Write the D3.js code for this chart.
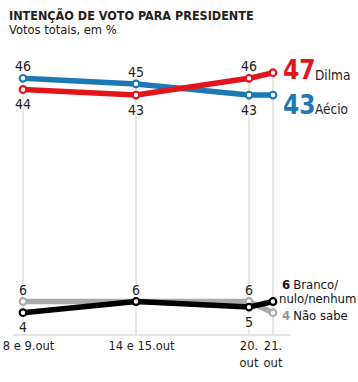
<!DOCTYPE html>
<html>
<head>
<meta charset="utf-8">
<script src="https://cdn.jsdelivr.net/npm/d3@7/dist/d3.min.js"></script>
<style>
  html, body { margin: 0; padding: 0; background: #fff; }
  svg { display: block; }
  text { font-family: 'DejaVu Sans Condensed', 'DejaVu Sans', sans-serif; font-stretch: condensed; }
</style>
</head>
<body>
<svg id="chart" width="358" height="382"></svg>
<script>
// ---- data ----
const categories = ["8 e 9.out", "14 e 15.out", "20.|out", "21.|out"];
const days = [8, 14, 20, 21];
const dilma = [44, 43, 46, 47];
const aecio = [46, 45, 43, 43];
const branco = [4, 6, 5, 6];
const naoSabe = [6, 6, 6, 4];
const seriesNames = ["Dilma", "Aécio", "Branco/|nulo/nenhum", "Não sabe"];

const colors = { dilma: "#e2141c", aecio: "#1d79b5", branco: "#000000", nao: "#ababab" };

const svg = d3.select("#chart");
const baseY = 335;

// x: day scale; the last day is stretched for readability
const x = d3.scaleLinear().domain([8, 20, 21]).range([23, 249, 273]);
const y = d3.scaleLinear().domain([0, 50]).range([baseY, 56]);

// Title
svg.append("text").attr("x", 9).attr("y", 20)
  .attr("font-size", 12.5).attr("font-weight", "bold").attr("fill", "#222")
  .text("INTENÇÃO DE VOTO PARA PRESIDENTE");
svg.append("text").attr("x", 9).attr("y", 33.5)
  .attr("font-size", 12.8).attr("fill", "#222")
  .text("Votos totais, em %");

// grid lines
const g = svg.append("g");
g.selectAll("line.grid").data(days).join("line")
  .attr("class", "grid")
  .attr("x1", d => x(d)).attr("x2", d => x(d))
  .attr("y1", y(47)).attr("y2", baseY)
  .attr("stroke", "#cccccc").attr("stroke-width", 1);
// baseline
g.append("line").attr("x1", 13).attr("x2", 290).attr("y1", baseY).attr("y2", baseY)
  .attr("stroke", "#cccccc").attr("stroke-width", 1);

// x labels
const xl = svg.append("g");
categories.forEach((c, i) => {
  const parts = c.split("|");
  const cx = x(days[i]) + (parts.length === 1 ? 5.5 : 0);
  const t = xl.append("text").attr("x", cx).attr("y", 350)
    .attr("text-anchor", "middle").attr("font-size", 12.8).attr("fill", "#222");
  parts.forEach((p, j) => t.append("tspan").attr("x", cx).attr("dy", j === 0 ? 0 : 17).text(p));
});

const line = d3.line().x((d, i) => x(days[i])).y(d => y(d));

function drawSeries(vals, color) {
  svg.append("path").datum(vals).attr("d", line)
    .attr("fill", "none").attr("stroke", color).attr("stroke-width", 5.5)
    .attr("stroke-linejoin", "round").attr("stroke-linecap", "round");
}
function drawDots(vals, color) {
  svg.append("g").selectAll("circle").data(vals).join("circle")
    .attr("cx", (d, i) => x(days[i])).attr("cy", d => y(d))
    .attr("r", 3.3).attr("fill", "#fff").attr("stroke", color).attr("stroke-width", 2.2);
}

drawSeries(naoSabe, colors.nao); drawDots(naoSabe, colors.nao);
drawSeries(branco, colors.branco); drawDots(branco, colors.branco);
drawSeries(aecio, colors.aecio); drawDots(aecio, colors.aecio);
drawSeries(dilma, colors.dilma); drawDots(dilma, colors.dilma);

// value labels: above when series is the higher of its pair, below otherwise; skip last point and duplicates
const labels = svg.append("g");
function valueLabels(vals, other, skipTies) {
  vals.forEach((v, i) => {
    if (i === vals.length - 1) return;
    if (skipTies && v === other[i]) return;
    const above = v >= other[i];
    labels.append("text")
      .attr("x", x(days[i])).attr("y", above ? y(v) - 7 : y(v) + 19.5)
      .attr("text-anchor", "middle").attr("font-size", 14).attr("fill", "#222")
      .attr("stroke", "#fff").attr("stroke-width", 3).attr("paint-order", "stroke")
      .text(v);
  });
}
valueLabels(aecio, dilma, false);
valueLabels(dilma, aecio, false);
valueLabels(branco, naoSabe, false);
valueLabels(naoSabe, branco, true);

// end labels
const last = days.length - 1;
const ex = x(days[last]) + 10;
svg.append("text").attr("x", ex).attr("y", y(dilma[last]) + 6.5)
  .attr("font-size", 26).attr("font-weight", "bold").attr("fill", colors.dilma).text(dilma[last]);
svg.append("text").attr("x", ex + 32).attr("y", y(dilma[last]) + 7.5)
  .attr("font-size", 13.5).attr("fill", "#222").text(seriesNames[0]);
svg.append("text").attr("x", ex).attr("y", y(aecio[last]) + 19)
  .attr("font-size", 26).attr("font-weight", "bold").attr("fill", colors.aecio).text(aecio[last]);
svg.append("text").attr("x", ex + 32).attr("y", y(aecio[last]) + 19)
  .attr("font-size", 13.5).attr("fill", "#222").text(seriesNames[1]);

const bx = x(days[last]) + 9;
const bn = seriesNames[2].split("|");
const t1 = svg.append("text").attr("x", bx).attr("y", y(branco[last]) - 12.5).attr("font-size", 13).attr("fill", "#111");
t1.append("tspan").attr("font-weight", "bold").text(branco[last]);
t1.append("tspan").attr("dx", 3).text(bn[0]);
svg.append("text").attr("x", bx - 3).attr("y", y(branco[last]) + 1.5).attr("font-size", 13).attr("fill", "#111").text(bn[1]);
const t2 = svg.append("text").attr("x", bx).attr("y", y(naoSabe[last]) + 7.5).attr("font-size", 13).attr("fill", "#999");
t2.append("tspan").attr("font-weight", "bold").text(naoSabe[last]);
t2.append("tspan").attr("dx", 3).attr("fill", "#111").text(seriesNames[3]);
</script>
</body>
</html>
